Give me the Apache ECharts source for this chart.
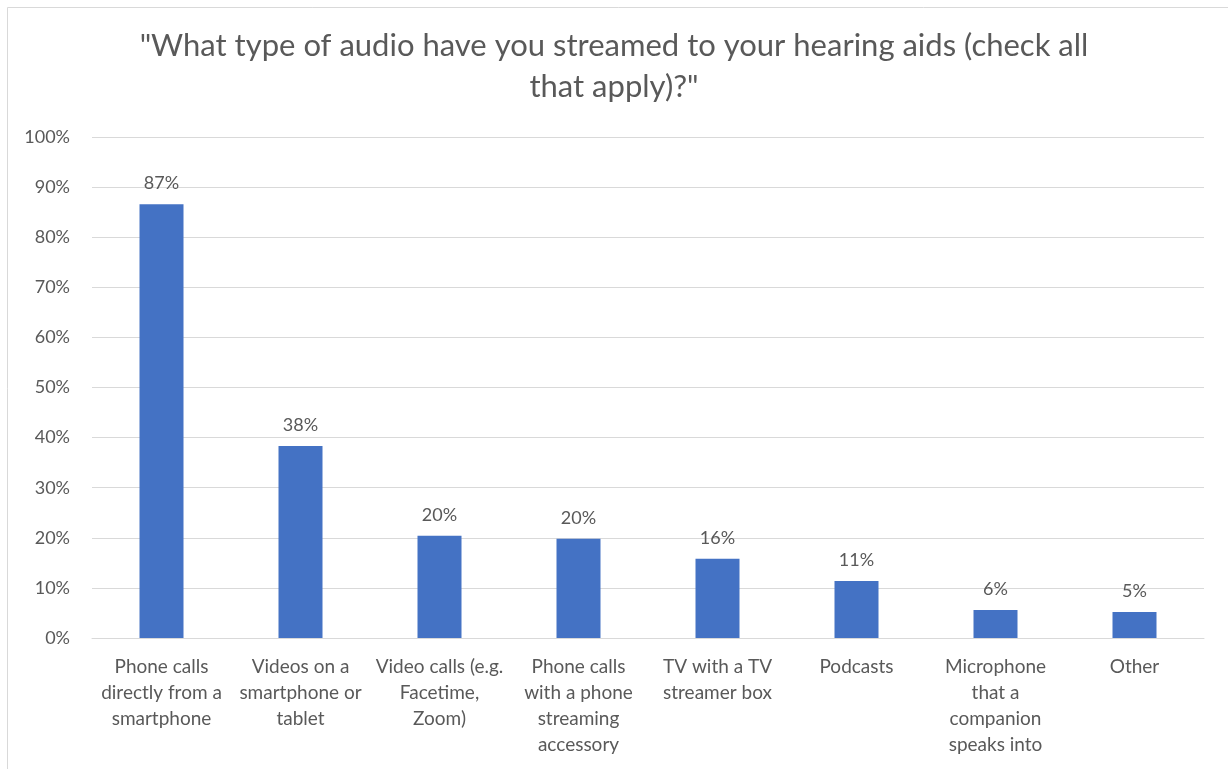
<!DOCTYPE html>
<html>
<head>
<meta charset="utf-8">
<title>Audio streamed to hearing aids</title>
<script src="https://cdn.jsdelivr.net/npm/echarts@6/dist/echarts.min.js"></script>
<style>
  html, body { margin: 0; padding: 0; background: #ffffff; }
  #chart { width: 1228px; height: 769px; }
</style>
</head>
<body>
<div id="chart"></div>
<script>
// Survey answers (multiple choice), share of respondents in percent
const categories = [
  'Phone calls\ndirectly from a\nsmartphone',
  'Videos on a\nsmartphone or\ntablet',
  'Video calls (e.g.\nFacetime,\nZoom)',
  'Phone calls\nwith a phone\nstreaming\naccessory',
  'TV with a TV\nstreamer box',
  'Podcasts',
  'Microphone\nthat a\ncompanion\nspeaks into',
  'Other'
];
const shares = [86.6, 38.3, 20.4, 19.8, 15.8, 11.4, 5.6, 5.2];
const yTicks = { min: 0, max: 100, interval: 10 };
const titleText = '"What type of audio have you streamed to your hearing aids (check all\nthat apply)?"';

const FONT = 'Lato, "Open Sans", sans-serif';
const GREY = '#595959';

const chart = echarts.init(document.getElementById('chart'), null, { renderer: 'canvas' });
chart.setOption({
  animation: false,
  backgroundColor: '#ffffff',
  graphic: [{
    type: 'rect',
    shape: { x: 7.5, y: 7.5, width: 1240, height: 780 },
    style: { fill: 'none', stroke: '#d9d9d9', lineWidth: 1 },
    silent: true
  }],
  title: {
    text: titleText,
    left: 'center',
    top: 20,
    textStyle: {
      fontFamily: FONT,
      fontSize: 31,
      fontWeight: 'normal',
      color: GREY,
      lineHeight: 41
    }
  },
  grid: { left: 92, right: 24, top: 137, bottom: 131, containLabel: false },
  xAxis: {
    type: 'category',
    data: categories,
    axisLine: { show: true, lineStyle: { color: '#d9d9d9', width: 1 } },
    axisTick: { show: false },
    axisLabel: {
      interval: 0,
      margin: 16,
      fontFamily: FONT,
      fontSize: 19,
      lineHeight: 26,
      color: GREY,
      align: 'center'
    }
  },
  yAxis: {
    type: 'value',
    min: yTicks.min,
    max: yTicks.max,
    interval: yTicks.interval,
    axisLine: { show: false },
    axisTick: { show: false },
    splitLine: { lineStyle: { color: '#d9d9d9', width: 1 } },
    axisLabel: {
      margin: 22,
      fontFamily: FONT,
      fontSize: 18,
      color: GREY,
      formatter: v => v + '%'
    }
  },
  series: [{
    type: 'bar',
    data: shares,
    barWidth: 44,
    itemStyle: { color: '#4472c4' },
    label: {
      show: true,
      position: 'top',
      distance: 12,
      fontFamily: FONT,
      fontSize: 18,
      color: GREY,
      formatter: p => Math.round(p.value) + '%'
    }
  }]
});
</script>
</body>
</html>
